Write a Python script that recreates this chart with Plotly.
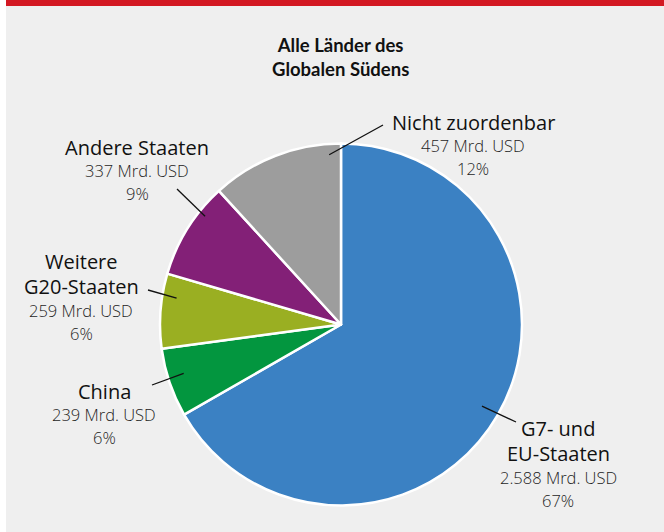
import math
import plotly.graph_objects as go

# ---- data ----
categories = ["G7- und<br>EU-Staaten", "China", "Weitere<br>G20-Staaten", "Andere Staaten", "Nicht zuordenbar"]
values = [2588, 239, 259, 337, 457]          # Mrd. USD
value_labels = ["2.588 Mrd. USD", "239 Mrd. USD", "259 Mrd. USD", "337 Mrd. USD", "457 Mrd. USD"]
pct_labels = ["67%", "6%", "6%", "9%", "12%"]
colors = ["#3b81c3", "#03963f", "#9aaf22", "#832077", "#9d9d9d"]
title_text = "Alle Länder des<br>Globalen Südens"

# ---- layout / style ----
W, H = 664, 532
BG = "#efefef"
FONT = "Open Sans"
cx_px, cy_px, R = 341, 324.5, 181

# label anchor positions (pixels, centre of first line) and leader-line outer ends
label_pos = [(558, 428), (104, 391), (81, 261), (137, 147), (473, 122)]
line_outer = [(516, 422), (152, 385), (148, 290), (177, 189), (383, 125)]
anchor_frac = [0.5, 0.57, 0.70, 0.71, 0.906]   # position along slice
anchor_rad = [0.90, 0.91, 0.92, 0.96, 0.94]    # fraction of radius
NAME_GAP, NAME_VAL_GAP, VAL_GAP = 25.5, 23.5, 23

dom_x = [(cx_px - R) / W, (cx_px + R) / W]
dom_y = [1 - (cy_px + R) / H, 1 - (cy_px - R) / H]

fig = go.Figure(go.Pie(
    labels=categories,
    values=values,
    sort=False,
    direction="clockwise",
    rotation=0,
    marker=dict(colors=colors, line=dict(color="white", width=2.5)),
    textinfo="none",
    hoverinfo="label+value+percent",
    showlegend=False,
    domain=dict(x=dom_x, y=dom_y),
))

total = sum(values)
shapes = [
    dict(type="rect", xref="paper", yref="paper", x0=0, x1=6 / W, y0=0, y1=1,
         fillcolor="white", line=dict(width=0)),
    dict(type="rect", xref="paper", yref="paper", x0=6 / W, x1=1, y0=1 - 6 / H, y1=1,
         fillcolor="#d31822", line=dict(width=0)),
]
annotations = []


def add_text(txt, x, y, size, color, weight=400):
    annotations.append(dict(
        text=txt, x=x / W, y=1 - y / H, xref="paper", yref="paper",
        xanchor="center", yanchor="middle", showarrow=False, align="center",
        borderpad=0,
        font=dict(family=FONT, size=size, color=color, weight=weight),
    ))


cum = 0
for i, v in enumerate(values):
    a0 = cum / total * 360
    cum += v
    a1 = cum / total * 360
    ang = math.radians(a0 + (a1 - a0) * anchor_frac[i])
    r = R * anchor_rad[i]
    sx = cx_px + r * math.sin(ang)
    sy = cy_px - r * math.cos(ang)
    ox, oy = line_outer[i]
    shapes.append(dict(type="line", xref="paper", yref="paper",
                       x0=sx / W, y0=1 - sy / H, x1=ox / W, y1=1 - oy / H,
                       line=dict(color="#111111", width=1.3)))
    lx, ly = label_pos[i]
    y = ly
    parts = categories[i].split("<br>")
    for k, p in enumerate(parts):
        add_text(p, lx, y, 20, "#111111")
        if k < len(parts) - 1:
            y += NAME_GAP
    y += NAME_VAL_GAP
    add_text(value_labels[i], lx, y, 16.5, "#1e1e1e", 300)
    y += VAL_GAP
    add_text(pct_labels[i], lx, y, 16.5, "#1e1e1e", 300)

annotations.append(dict(
    text="<b>" + title_text + "</b>", x=341 / W, y=1 - 32 / H, xref="paper", yref="paper",
    xanchor="center", yanchor="top", showarrow=False, align="center",
    font=dict(family="Lato", size=18.5, color="#111111"),
))

fig.update_layout(
    width=W, height=H,
    margin=dict(l=0, r=0, t=0, b=0),
    paper_bgcolor=BG, plot_bgcolor=BG,
    shapes=shapes, annotations=annotations,
)

fig.write_html("out.html", config={"displayModeBar": False},
               post_script="document.body.style.margin='0';document.body.style.overflow='hidden';")
